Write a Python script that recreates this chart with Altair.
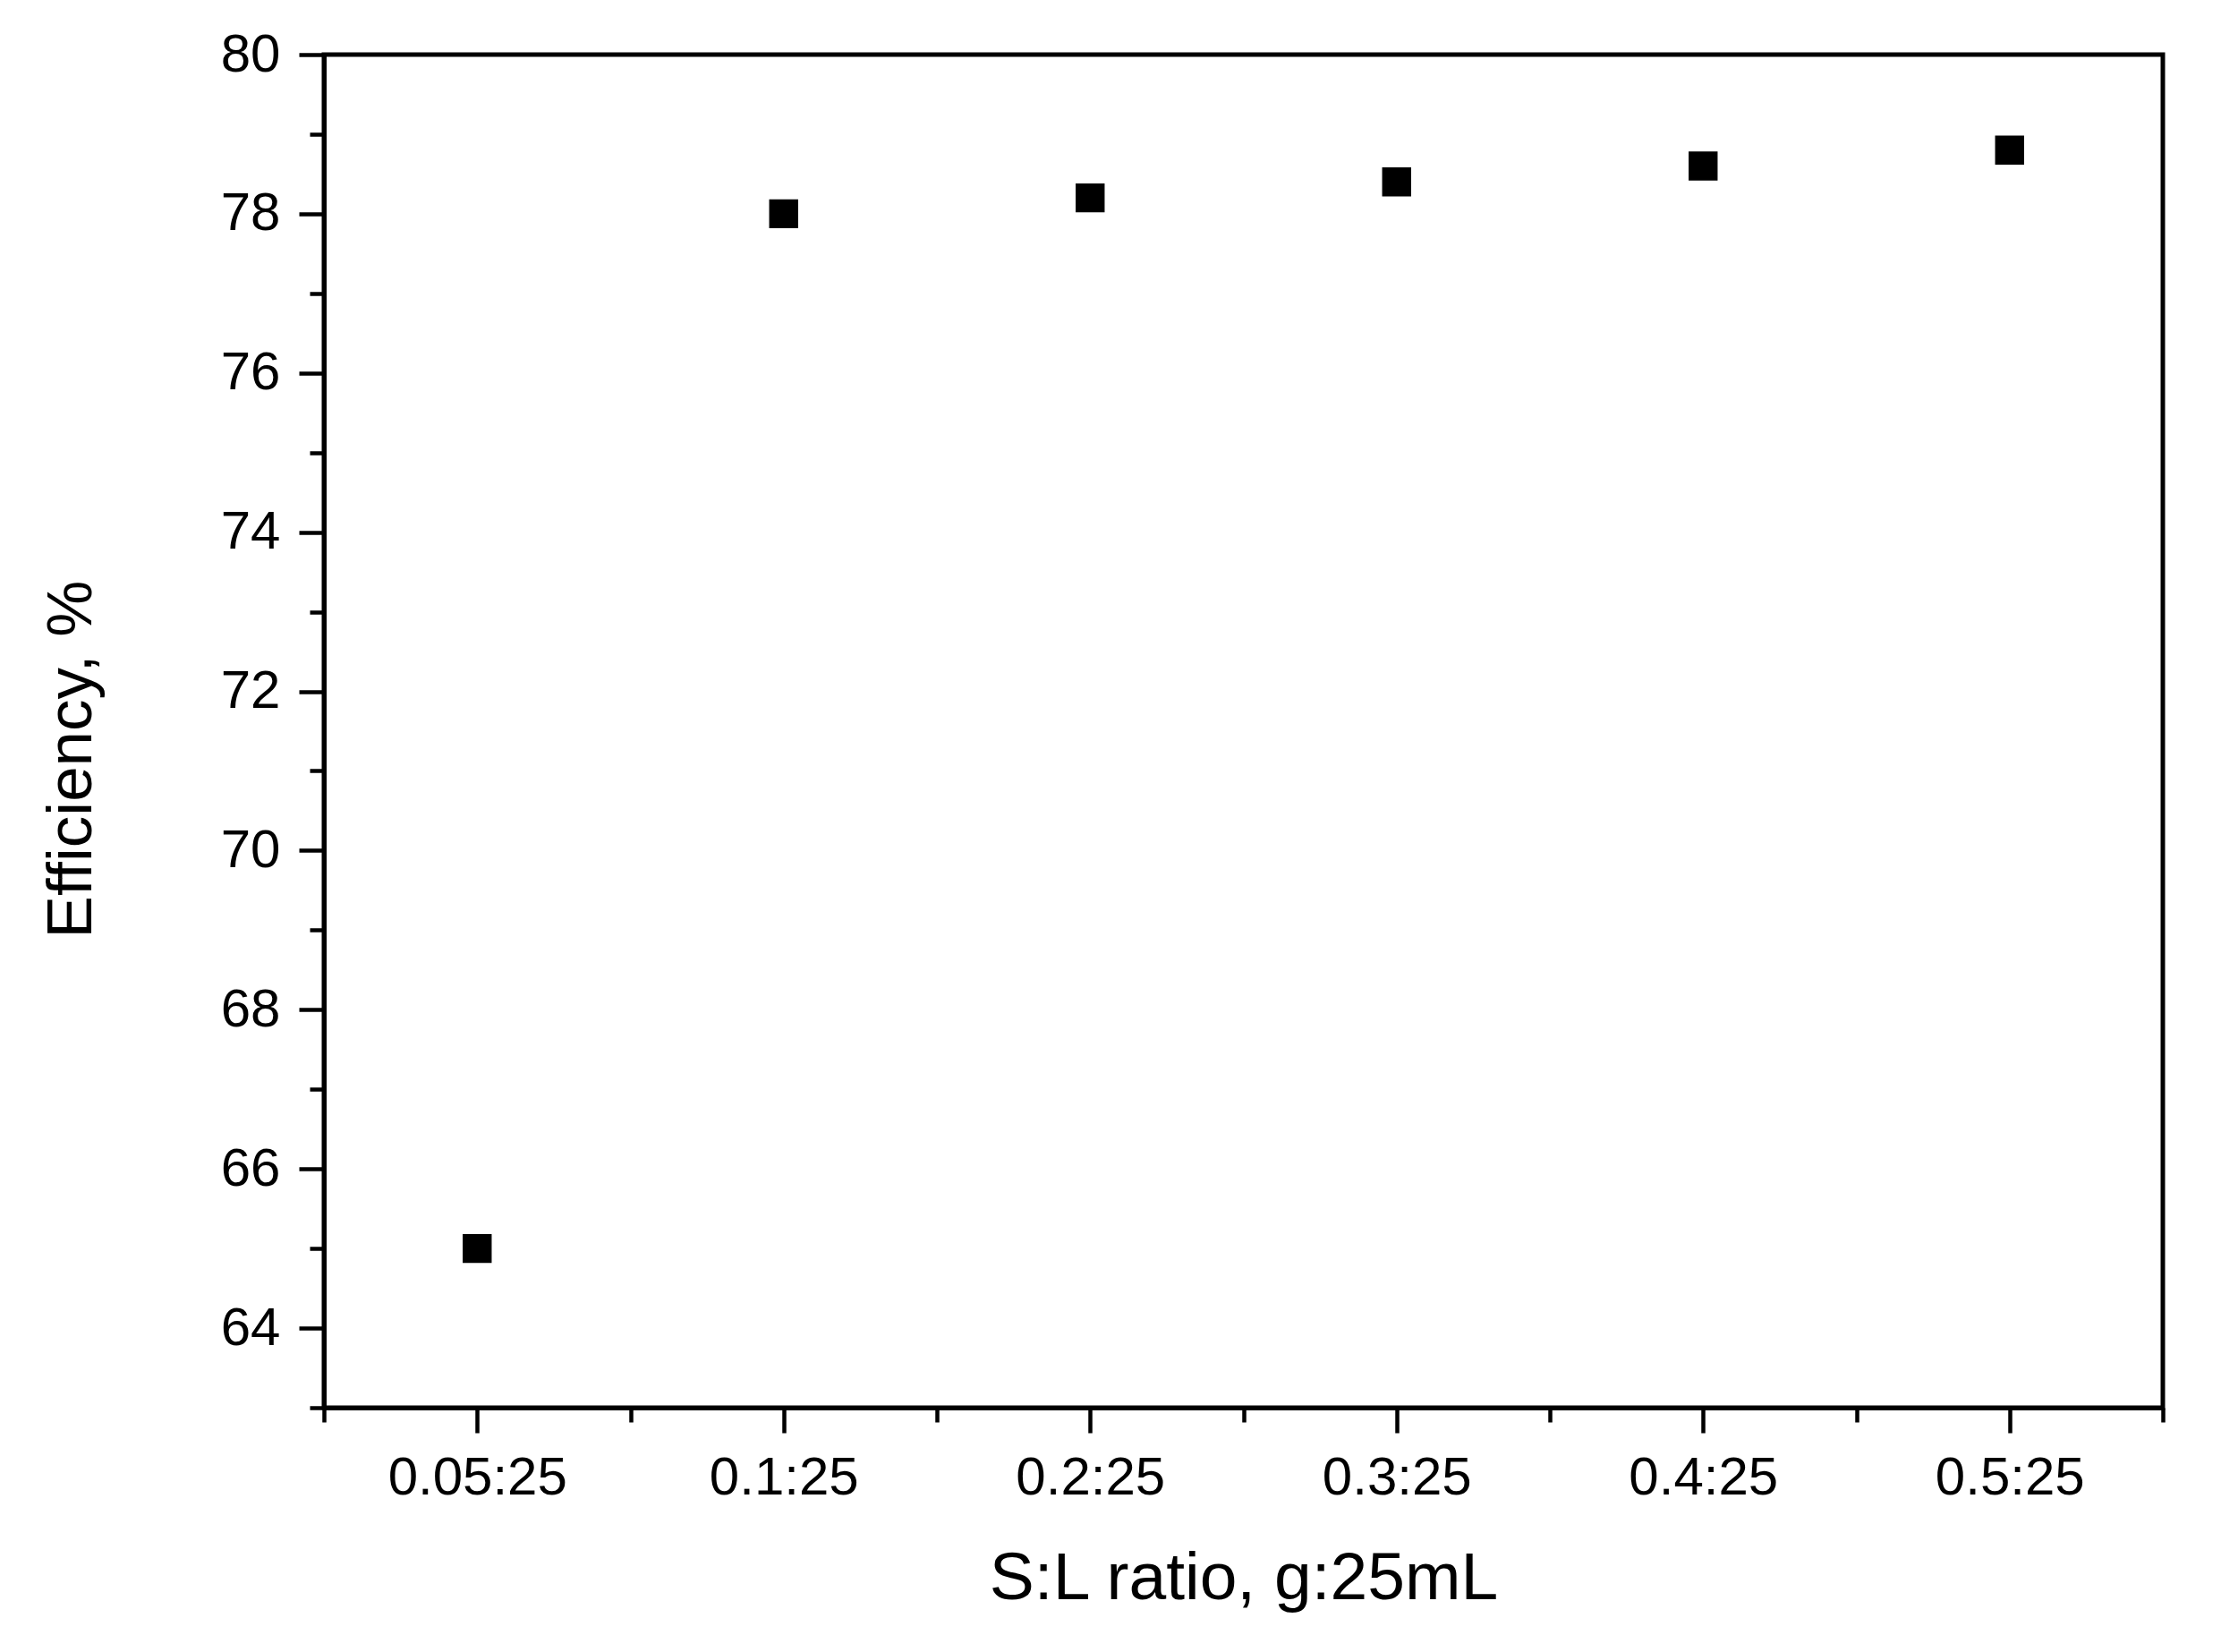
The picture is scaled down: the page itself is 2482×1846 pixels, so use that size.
import json
import altair as alt
import pandas as pd

# ---- data ----
categories = ["0.05:25", "0.1:25", "0.2:25", "0.3:25", "0.4:25", "0.5:25"]
efficiency = [65.0, 78.0, 78.2, 78.4, 78.6, 78.8]
positions = [1, 2, 3, 4, 5, 6]

x_tick_values = [0.5, 1, 1.5, 2, 2.5, 3, 3.5, 4, 4.5, 5, 5.5, 6, 6.5]
y_tick_values = [63, 64, 65, 66, 67, 68, 69, 70, 71, 72, 73, 74, 75, 76, 77, 78, 79, 80]

x_title = "S:L ratio, g:25mL"
y_title = "Efficiency, %"

df = pd.DataFrame({"pos": positions, "category": categories, "efficiency": efficiency})

x_label_expr = "datum.value % 1 === 0 ? " + json.dumps(categories) + "[datum.value - 1] : ''"
y_label_expr = "datum.value % 2 === 0 ? datum.label : ''"

FONT = "Liberation Sans"

chart = (
    alt.Chart(df)
    .mark_square(size=1050, color="black", opacity=1)
    .encode(
        x=alt.X(
            "pos:Q",
            scale=alt.Scale(domain=[0.5, 6.5], nice=False, zero=False),
            axis=alt.Axis(
                title=x_title,
                values=x_tick_values,
                labelExpr=x_label_expr,
                tickSize={"condition": {"test": "datum.value % 1 !== 0", "value": 16}, "value": 28},
                grid=False,
                labelOverlap=False,
                labelFlush=False,
                labelLimit=0,
                labelPadding=21,
                titlePadding=46,
                titleFontSize=75,
            ),
        ),
        y=alt.Y(
            "efficiency:Q",
            scale=alt.Scale(domain=[63, 80], nice=False, zero=False),
            axis=alt.Axis(
                title=y_title,
                values=y_tick_values,
                labelExpr=y_label_expr,
                tickSize={"condition": {"test": "datum.value % 2 !== 0", "value": 16}, "value": 28},
                grid=False,
                labelOverlap=False,
                labelFlush=False,
                labelLimit=0,
                labelPadding=21,
                titlePadding=130,
                titleFontSize=71,
                titleY=787,
            ),
        ),
    )
    .properties(
        width=2055,
        height=1512,
        autosize=alt.AutoSizeParams(type="none"),
        padding={"left": 354, "top": 53, "right": 50, "bottom": 250},
    )
    .configure_view(stroke="black", strokeWidth=5)
    .configure_axis(
        domainColor="black",
        domainWidth=5,
        tickColor="black",
        tickWidth=4.5,
        labelFont=FONT,
        labelFontSize=60,
        labelColor="black",
        titleFont=FONT,
        titleFontWeight="normal",
        titleColor="black",
    )
)

chart.save("out.html", embed_options={"renderer": "svg", "actions": False})
